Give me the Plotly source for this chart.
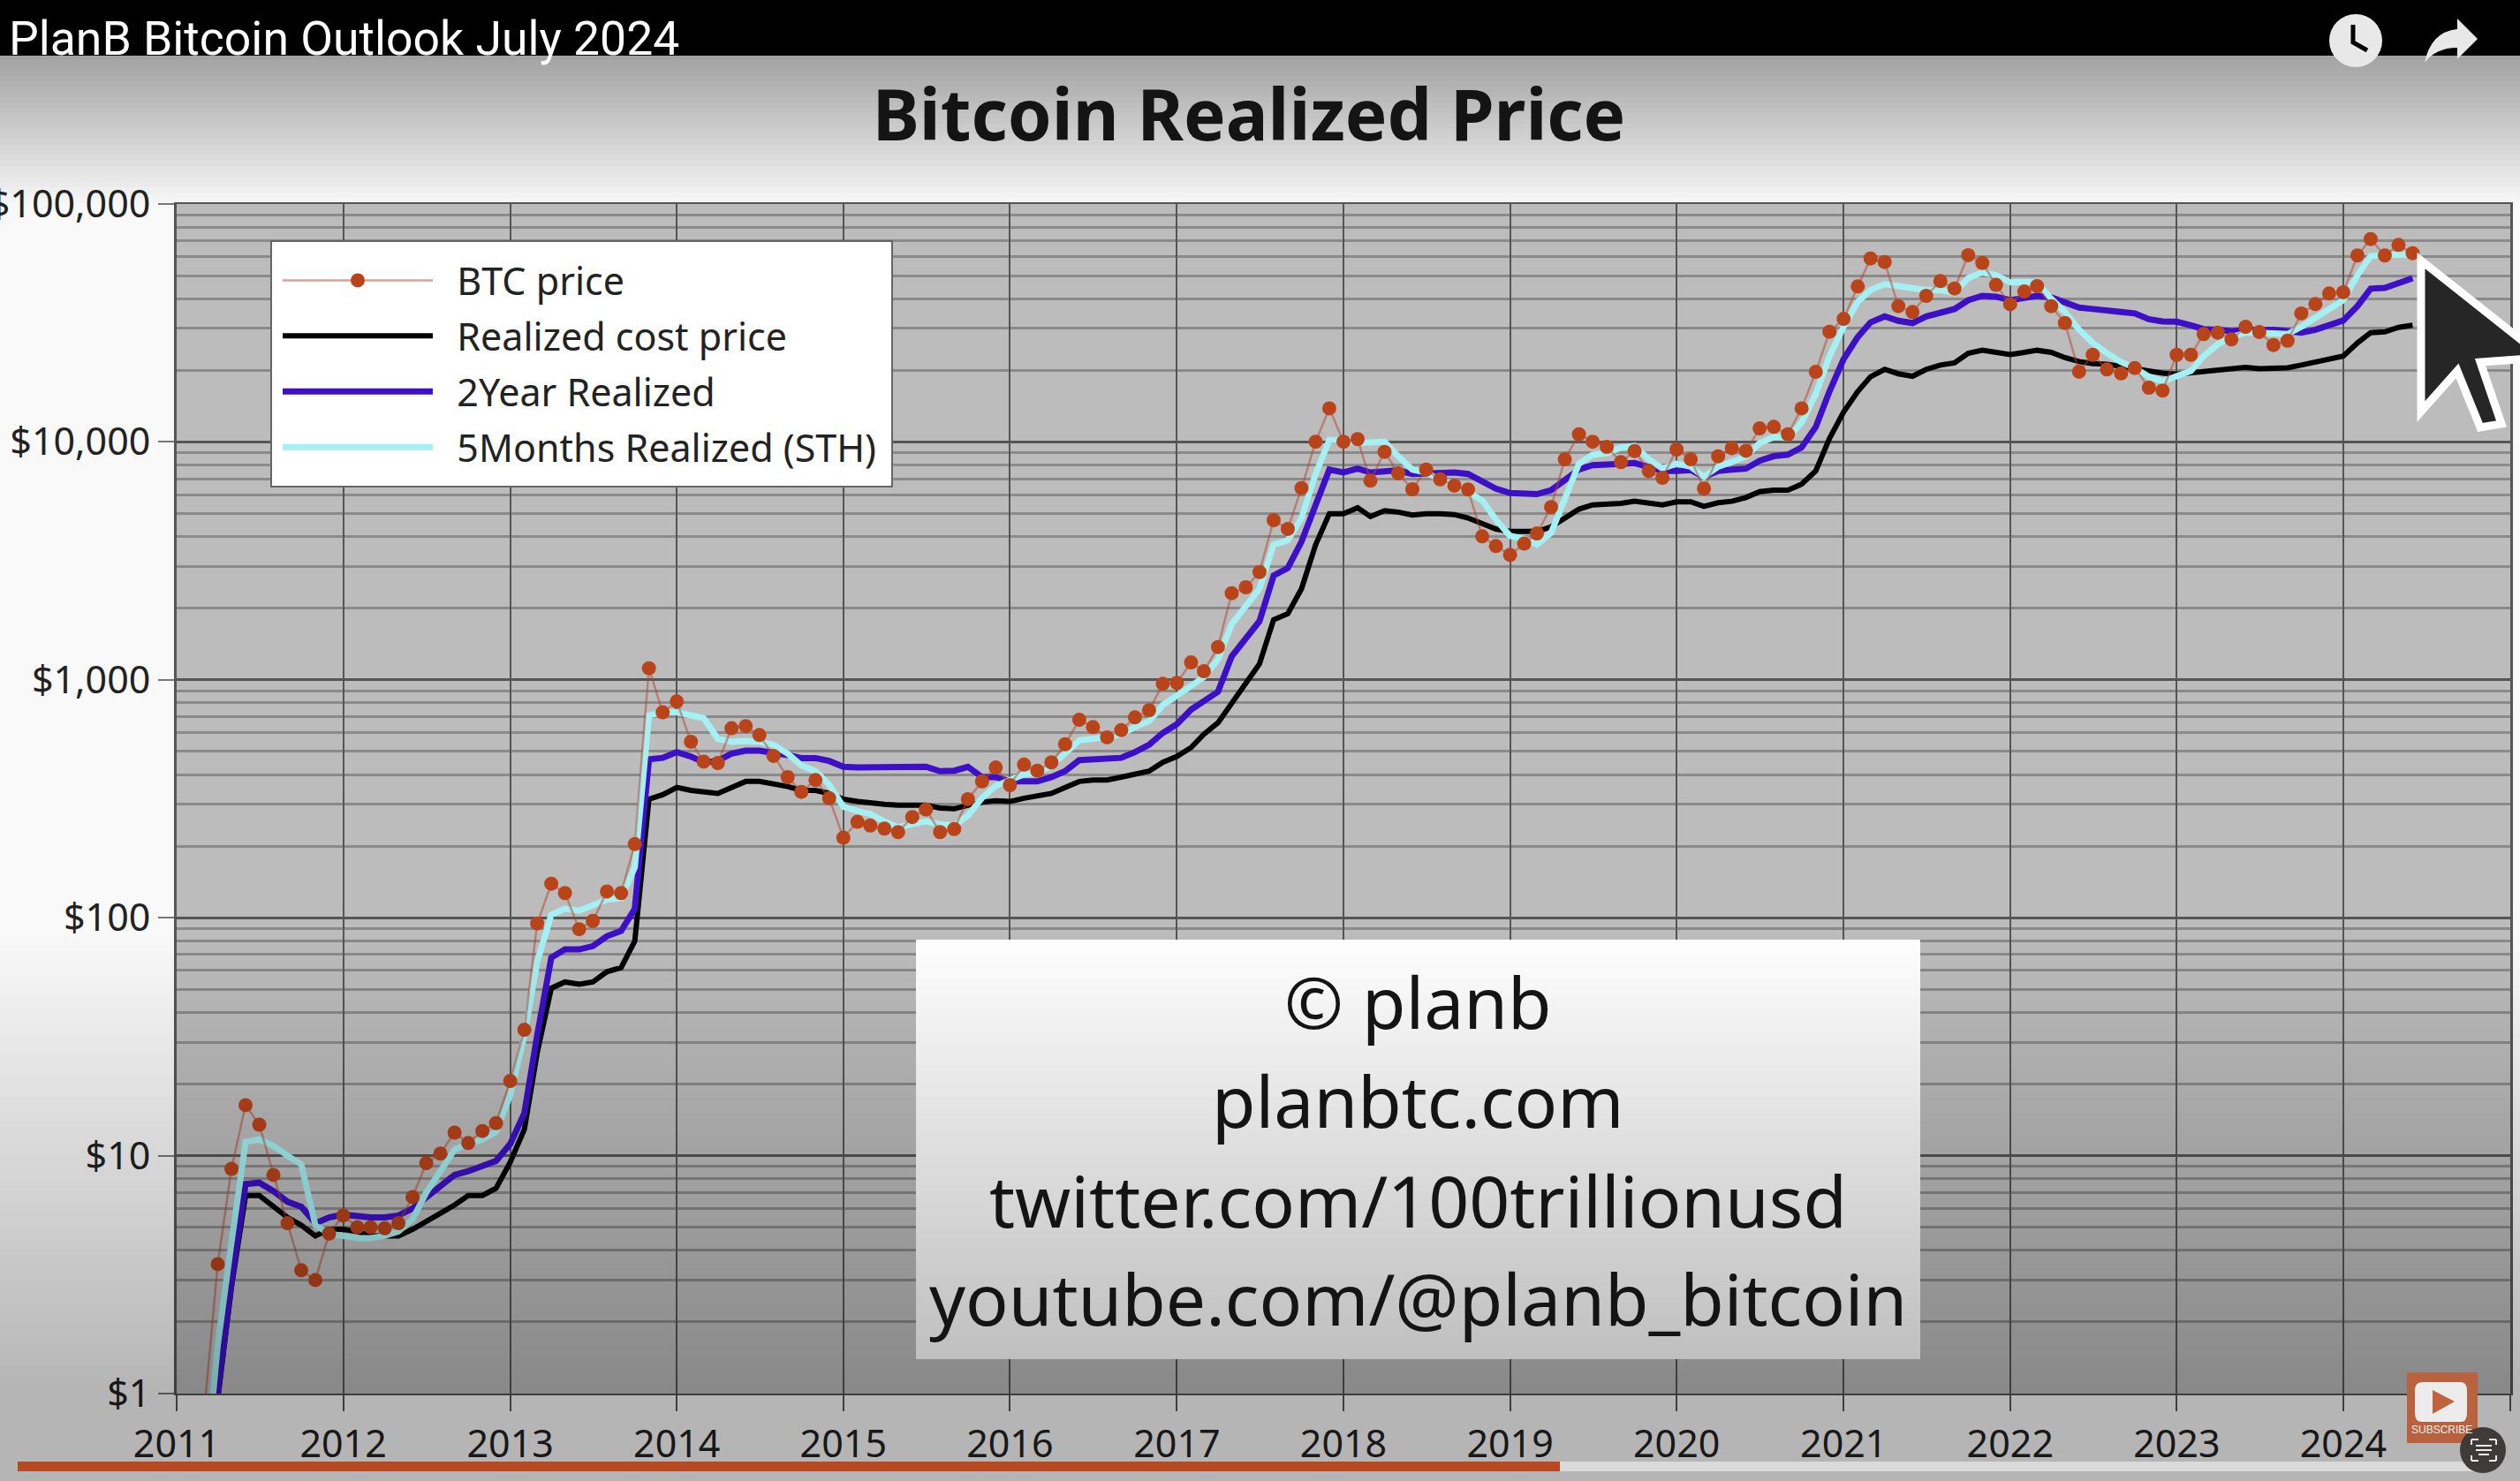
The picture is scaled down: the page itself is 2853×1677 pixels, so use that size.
import pandas as pd
import plotly.graph_objects as go

W, H = 2853, 1677

# monthly values, 2011-03 to 2024-06, one row per year
btc_price = [
    0.78, 3.5, 8.8, 16.3, 13.5, 8.3, 5.2, 3.3, 3.0, 4.7,
    5.6, 5.0, 5.0, 4.95, 5.2, 6.7, 9.3, 10.2, 12.5, 11.3, 12.7, 13.7,
    20.6, 33.8, 94.6, 139, 127, 89.5, 97, 129, 127, 204, 1119, 730,
    811, 549, 453, 447, 626, 639, 586, 479, 390, 338, 379, 318,
    217, 253, 244, 237, 229, 265, 285, 229, 236, 315, 374, 428,
    361, 440, 415, 450, 536, 679, 633, 573, 615, 695, 745, 962,
    971, 1184, 1087, 1373, 2313, 2449, 2839, 4689, 4307, 6398, 10020, 13840,
    10020, 10270, 6870, 9080, 7380, 6325, 7650, 6965, 6550, 6310, 4010, 3650,
    3350, 3735, 4125, 5320, 8450, 10770, 10020, 9530, 8220, 9160, 7550, 7070,
    9290, 8450, 6365, 8700, 9420, 9180, 11400, 11570, 10770, 13840, 19700, 29040,
    32900, 45040, 59020, 57040, 37220, 35160, 41120, 47420, 44160, 60950, 56520, 45700,
    37930, 42870, 45170, 37220, 31620, 19720, 23240, 20170, 19410, 20460, 16900, 16440,
    23240, 23240, 28390, 28790, 26970, 30480, 28970, 25550, 26650, 34670, 37950, 42060,
    42570, 60770, 71250, 60770, 67300, 62130,
]
realized_cost = [
    0.4, 0.95, 2.8, 6.8, 6.8, 6.1, 5.5, 5.1, 4.6, 4.9,
    4.9, 4.8, 4.6, 4.6, 4.6, 4.9, 5.3, 5.7, 6.2, 6.8, 6.8, 7.3,
    9.4, 12.9, 27, 50.6, 53.7, 52.6, 53.7, 59.3, 61.7, 79.8, 315, 329,
    353, 343, 338, 333, 353, 374, 374, 366, 356, 343, 343, 333,
    315, 308, 306, 300, 297, 297, 297, 289, 287, 297, 306, 310,
    308, 318, 324, 333, 353, 374, 379, 379, 390, 401, 413, 450,
    476, 519, 590, 660, 794, 957, 1167, 1790, 1897, 2414, 3700, 4990,
    4990, 5290, 4855, 5140, 5070, 4925, 4990, 4990, 4950, 4790, 4520, 4305,
    4205, 4205, 4205, 4395, 4790, 5215, 5440, 5480, 5515, 5630, 5515, 5440,
    5600, 5600, 5360, 5550, 5630, 5840, 6180, 6270, 6270, 6640, 7550, 10330,
    13340, 16300, 18800, 20180, 19340, 18880, 20180, 21050, 21500, 23600, 24270, 23720,
    23280, 23790, 24270, 23790, 22600, 21770, 21340, 21220, 20760, 20480, 19790, 19450,
    19240, 19500, 19880, 19990, 20180, 20560, 20320, 20320, 20480, 21050, 21680, 22300,
    22930, 26060, 28800, 29000, 30300, 30930,
]
two_year = [
    0.4, 1.0, 2.9, 7.6, 7.7, 7.1, 6.4, 6.1, 5.2, 5.5,
    5.65, 5.55, 5.5, 5.5, 5.6, 6.0, 6.7, 7.4, 8.3, 8.6, 9.0, 9.5,
    11.2, 15.1, 32, 68, 73.6, 73.6, 76, 83.7, 88, 109, 463, 470,
    497, 476, 450, 456, 490, 504, 504, 497, 483, 469, 469, 456,
    431, 428, 428, 428, 431, 431, 431, 413, 415, 431, 390, 390,
    374, 374, 374, 390, 413, 460, 463, 463, 470, 497, 533, 598,
    651, 750, 818, 891, 1254, 1488, 1766, 2744, 2950, 3810, 5360, 7650,
    7440, 7720, 7440, 7550, 7600, 7330, 7380, 7440, 7440, 7330, 6830, 6365,
    6095, 6030, 6030, 6270, 6930, 7650, 7985, 8090, 8090, 8150, 7870, 7550,
    7550, 7620, 7130, 7550, 7650, 7720, 8340, 8710, 8840, 9480, 11560, 16300,
    22300, 27600, 31800, 33700, 32300, 31600, 33700, 35200, 36200, 39400, 41100, 40800,
    39400, 40300, 41100, 40500, 38800, 36700, 36200, 35500, 35200, 34700, 32800, 32100,
    32000, 30900, 29800, 29600, 29200, 29500, 29600, 29600, 29200, 28800, 29600, 30900,
    32400, 37200, 44100, 44400, 46800, 48800,
]
five_month = [
    0.37, 1.6, 4.3, 11.4, 11.7, 11, 10, 9.2, 5.1, 4.7,
    4.6, 4.5, 4.5, 4.6, 4.8, 5.4, 7, 8.7, 10.6, 11.2, 11.7, 12.6,
    18, 32, 65, 103, 109, 107, 112, 119, 121, 163, 710, 730,
    730, 710, 690, 565, 549, 553, 549, 533, 490, 437, 413, 363,
    293, 281, 273, 254, 240, 247, 254, 247, 244, 269, 319, 358,
    379, 401, 406, 437, 490, 557, 565, 573, 589, 633, 670, 783,
    853, 942, 1028, 1219, 1714, 2037, 2414, 3700, 3860, 4785, 7330, 10180,
    10180, 9890, 9890, 10030, 8700, 7650, 7440, 6930, 6640, 6185, 5675, 4720,
    4030, 3915, 3700, 4150, 5830, 8100, 8830, 8960, 9480, 9620, 8450, 7720,
    8100, 7870, 7130, 7870, 8230, 8700, 9890, 10480, 10400, 12080, 15860, 22900,
    30470, 38800, 43500, 46040, 45200, 44400, 43500, 43500, 42300, 48800, 51660, 50200,
    46800, 47050, 46800, 39960, 35200, 29650, 26060, 23600, 21680, 20480, 18800, 17990,
    18800, 19880, 22930, 25700, 27600, 28800, 28800, 28400, 28400, 30470, 33200, 36200,
    39400, 50200, 60400, 61200, 61200, 61200,
]
months = pd.date_range("2011-03-01", periods=len(btc_price), freq="MS")

year_ticks = [f"{y}-01-01" for y in range(2011, 2026)]
year_labels = [str(y) for y in range(2011, 2025)] + [""]
price_ticks = [1, 10, 100, 1000, 10000, 100000]
price_labels = ["$1", "$10", "$100", "$1,000", "$10,000", "$100,000"]
watermark = ["© planb", "planbtc.com", "twitter.com/100trillionusd", "youtube.com/@planb_bitcoin"]
# non-breaking spaces open the gap between legend sample and text
GAP = "\u00a0\u00a0"


# paper coordinates from screenshot pixels (margins are 0)
def px(x):
    return x / W


def py(y):
    return 1 - y / H


def path(points):
    return "M" + " L".join(f"{px(x):.5f},{py(y):.5f}" for x, y in points) + " Z"


def rect(x0, y0, x1, y1, color, **kw):
    return dict(type="rect", xref="paper", yref="paper", x0=px(x0), x1=px(x1), y0=py(y0), y1=py(y1),
                fillcolor=color, line_width=0, layer="above", **kw)


fig = go.Figure()
fig.add_trace(go.Scatter(x=months, y=realized_cost, mode="lines", name=GAP + "Realized cost price", legendrank=2,
                         legendgroup="a", line=dict(color="#000000", width=6)))
fig.add_trace(go.Scatter(x=months, y=two_year, mode="lines", name=GAP + "2Year Realized", legendrank=3,
                         legendgroup="b", line=dict(color="#3d10c8", width=7)))
fig.add_trace(go.Scatter(x=months, y=five_month, mode="lines", name=GAP + "5Months Realized (STH)", legendrank=4,
                         legendgroup="c", line=dict(color="#a4f0f2", width=7)))
fig.add_trace(go.Scatter(x=months, y=btc_price, mode="lines+markers", name=GAP + "BTC price", legendrank=1,
                         legendgroup="d", line=dict(color="rgba(175,70,45,0.5)", width=2.5),
                         marker=dict(color="#b9441a", size=16)))

shapes = []
# legend box
shapes.append(dict(type="rect", xref="paper", yref="paper", x0=px(307), x1=px(1010), y0=py(273), y1=py(551),
                   fillcolor="#ffffff", line=dict(color="#666666", width=2), layer="above"))
# watermark box
shapes.append(rect(1037, 1064, 2174, 1539, "#ffffff"))
# top bar and fades of the video player
for y in range(62, 232, 6):
    shapes.append(rect(0, y, W, y + 6, f"rgba(0,0,0,{0.34 * (232 - y) / 167:.3f})"))
for y in range(1050, H, 8):
    shapes.append(rect(0, y, W, y + 8, f"rgba(0,0,0,{min(0.27, 0.27 * (y - 1050) / 520):.3f})"))
# clock icon sits across the edge of the bar
shapes.append(rect(0, 0, W, 63, "#000000"))
shapes.append(dict(type="circle", xref="paper", yref="paper", layer="above", line_width=0, fillcolor="#e8e8e8",
                   x0=px(2637), x1=px(2697), y0=py(16), y1=py(76)))
shapes.append(dict(type="path", xref="paper", yref="paper", layer="above", fillcolor="rgba(0,0,0,0)",
                   line=dict(color="#000000", width=5),
                   path=f"M{px(2664):.5f},{py(28):.5f} L{px(2664):.5f},{py(48):.5f} L{px(2680):.5f},{py(57):.5f}"))
shapes.append(dict(type="path", xref="paper", yref="paper", layer="above", line_width=0, fillcolor="#e8e8e8",
                   path=f"M{px(2782):.5f},{py(21):.5f} L{px(2805):.5f},{py(44):.5f} L{px(2782):.5f},{py(67):.5f} "
                        f"L{px(2782):.5f},{py(54):.5f} Q{px(2758):.5f},{py(54):.5f} {px(2745):.5f},{py(71):.5f} "
                        f"Q{px(2752):.5f},{py(36):.5f} {px(2782):.5f},{py(33):.5f} Z"))
# progress bar
shapes.append(rect(20, 1655, 2811, 1666, "#dadada"))
shapes.append(rect(20, 1655, 1766, 1666, "#b8481f"))
# subscribe button
shapes.append(rect(2725, 1554, 2805, 1634, "#b9623f"))
shapes.append(dict(type="path", xref="paper", yref="paper", layer="above", line_width=0, fillcolor="#ececec",
                   path=f"M{px(2742):.5f},{py(1565):.5f} L{px(2786):.5f},{py(1565):.5f} "
                        f"Q{px(2793):.5f},{py(1565):.5f} {px(2793):.5f},{py(1575):.5f} L{px(2793):.5f},{py(1600):.5f} "
                        f"Q{px(2793):.5f},{py(1610):.5f} {px(2786):.5f},{py(1610):.5f} L{px(2742):.5f},{py(1610):.5f} "
                        f"Q{px(2734):.5f},{py(1610):.5f} {px(2734):.5f},{py(1600):.5f} L{px(2734):.5f},{py(1575):.5f} "
                        f"Q{px(2734):.5f},{py(1565):.5f} {px(2742):.5f},{py(1565):.5f} Z"))
shapes.append(dict(type="path", xref="paper", yref="paper", layer="above", line_width=0, fillcolor="#c0623c",
                   path=path([(2754, 1574), (2779, 1587), (2754, 1601)])))
shapes.append(dict(type="circle", xref="paper", yref="paper", layer="above", line_width=0, fillcolor="#3f3b38",
                   x0=px(2785), x1=px(2837), y0=py(1616), y1=py(1668)))
shapes.append(dict(type="path", xref="paper", yref="paper", layer="above", fillcolor="rgba(0,0,0,0)",
                   line=dict(color="#eeeeee", width=2),
                   path=" ".join(f"M{px(a):.5f},{py(b):.5f} L{px(c):.5f},{py(d):.5f}" for a, b, c, d in
                                 [(2803, 1637, 2821, 1637), (2803, 1642, 2821, 1642), (2806, 1647, 2818, 1647),
                                  (2798, 1636, 2798, 1630), (2798, 1630, 2806, 1630), (2826, 1636, 2826, 1630),
                                  (2826, 1630, 2818, 1630), (2798, 1648, 2798, 1654), (2798, 1654, 2806, 1654),
                                  (2826, 1648, 2826, 1654), (2826, 1654, 2818, 1654)])))
# mouse pointer
shapes.append(dict(type="path", xref="paper", yref="paper", layer="above", fillcolor="#262626",
                   line=dict(color="#ffffff", width=9),
                   path=path([(2741, 295), (2741, 466), (2782, 420), (2808, 484), (2832, 480), (2808, 410), (2880, 405)])))

annotations = [dict(text="PlanB Bitcoin Outlook July 2024", xref="paper", yref="paper", x=px(8), y=py(43),
                    xanchor="left", yanchor="middle", showarrow=False,
                    font=dict(family="Roboto", size=53.5, color="#ffffff"))]
for line, y in zip(watermark, [1134, 1246, 1359, 1470]):
    annotations.append(dict(text=line, xref="paper", yref="paper", x=px(1605), y=py(y), xanchor="center",
                            yanchor="middle", showarrow=False, font=dict(family="Noto Sans", size=80.5, color="#141414")))
annotations.append(dict(text="SUBSCRIBE", xref="paper", yref="paper", x=px(2764), y=py(1619), xanchor="center",
                        yanchor="middle", showarrow=False, font=dict(family="Liberation Sans", size=12, color="#efefef")))

fig.update_layout(
    width=W, height=H, margin=dict(l=0, r=0, t=0, b=0), autosize=False,
    paper_bgcolor="#f9f9f9", plot_bgcolor="#bcbcbc",
    font=dict(family="Noto Sans", color="#222222"),
    title=dict(text="<b>Bitcoin Realized Price</b>", x=px(1414), y=py(131), xanchor="center", yanchor="middle",
               automargin=False, font=dict(family="Noto Sans", size=80, color="#141414")),
    xaxis=dict(domain=[px(200), px(2842)], range=["2011-01-01", "2025-01-01"], tickmode="array", tickvals=year_ticks,
               ticktext=year_labels, ticks="outside", ticklen=18, tickwidth=2, tickcolor="#555555",
               gridcolor="#555555", gridwidth=2, showline=True, linecolor="#555555", linewidth=2, mirror=True,
               tickfont=dict(size=43), zeroline=False, automargin=False),
    yaxis=dict(domain=[py(1578), py(231)], type="log", range=[0, 5], tickmode="array", tickvals=price_ticks,
               ticktext=price_labels, ticks="outside", ticklen=18, tickwidth=2, tickcolor="#777777",
               gridcolor="#555555", gridwidth=3, showline=True, linecolor="#555555", linewidth=3, mirror=True,
               tickfont=dict(size=43), zeroline=False, automargin=False,
               minor=dict(dtick="D1", showgrid=True, gridcolor="#8a8a8a", gridwidth=3, ticks="")),
    legend=dict(x=px(315), y=py(283), xanchor="left", yanchor="top", bgcolor="rgba(0,0,0,0)",
                borderwidth=0, font=dict(size=43, color="#222222"), itemwidth=170, tracegroupgap=4,
                traceorder="grouped"),
    shapes=shapes,
    annotations=annotations,
)

# the page's default body margin would push everything 8px off
fig.write_html("out.html", config={"displayModeBar": False}, post_script="document.body.style.margin='0';")
